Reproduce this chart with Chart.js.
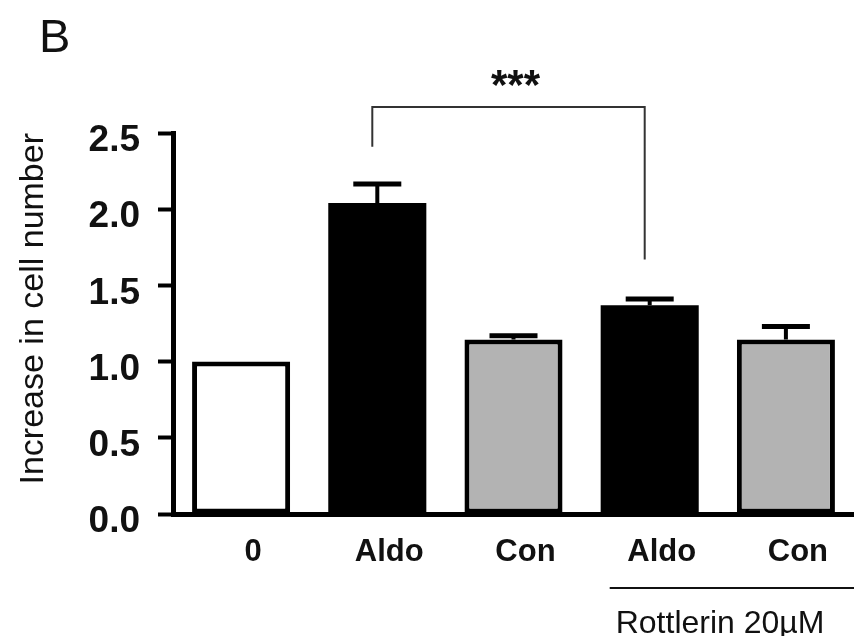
<!DOCTYPE html>
<html>
<head>
<meta charset="utf-8">
<script src="https://cdn.jsdelivr.net/npm/chart.js@4/dist/chart.umd.min.js"></script>
<style>
  body { margin: 0; background: #fff; }
  #wrap { width: 854px; height: 636px; }
</style>
</head>
<body>
<div id="wrap"><canvas id="cellChart" width="854" height="636"></canvas></div>
<script>
// values
const categories = ['0', 'Aldo', 'Con', 'Aldo', 'Con'];
const means = [1.00, 2.04, 1.145, 1.37, 1.145];
const sem = [0, 0.125, 0.025, 0.04, 0.085];
const yTicks = [0, 0.5, 1.0, 1.5, 2.0, 2.5];

// significance bracket: from / to category, top of bracket, left leg end, right leg end
const bracketIdx = [1, 3];
const bracketY = [2.67, 2.41, 1.67];
const stars = '***';
const groupLabel = 'Rottlerin 20\u00b5M';
const panelLabel = 'B';

const FONT = "'Liberation Sans', Arial, sans-serif";
const fills = ['#ffffff', '#000000', '#b3b3b3', '#000000', '#b3b3b3'];
// black bars need no outline (avoids a seam between fill and border)
const outlines = [5, 0, 5, 0, 5];

// error bars, bracket and extra labels
const extras = {
  id: 'extras',
  afterDatasetsDraw(chart) {
    const { ctx, scales: { x, y }, chartArea } = chart;
    ctx.save();
    ctx.strokeStyle = '#000';

    means.forEach((m, i) => {
      if (!sem[i]) return;
      const px = x.getPixelForValue(i);
      const top = y.getPixelForValue(m + sem[i]);
      ctx.lineWidth = 4;
      ctx.beginPath();
      ctx.moveTo(px, y.getPixelForValue(m));
      ctx.lineTo(px, top);
      ctx.stroke();
      ctx.lineWidth = 5;
      ctx.beginPath();
      ctx.moveTo(px - 24, top);
      ctx.lineTo(px + 24, top);
      ctx.stroke();
    });

    // bracket
    const xl = x.getPixelForValue(bracketIdx[0]) - 5;
    const xr = x.getPixelForValue(bracketIdx[1]) - 5;
    const yt = y.getPixelForValue(bracketY[0]);
    ctx.strokeStyle = '#333';
    ctx.lineWidth = 2;
    ctx.beginPath();
    ctx.moveTo(xl, y.getPixelForValue(bracketY[1]));
    ctx.lineTo(xl, yt);
    ctx.lineTo(xr, yt);
    ctx.lineTo(xr, y.getPixelForValue(bracketY[2]));
    ctx.stroke();

    ctx.fillStyle = '#111';
    ctx.font = 'bold 42px ' + FONT;
    ctx.textAlign = 'center';
    ctx.textBaseline = 'alphabetic';
    ctx.fillText(stars, (xl + xr) / 2 + 7, yt - 8);

    // group line under the rottlerin bars
    const gx = x.getPixelForValue(3) - 40;
    ctx.strokeStyle = '#111';
    ctx.lineWidth = 2;
    ctx.beginPath();
    ctx.moveTo(gx, 588);
    ctx.lineTo(chartArea.right, 588);
    ctx.stroke();
    ctx.fillStyle = '#111';
    ctx.font = '32px ' + FONT;
    ctx.textAlign = 'left';
    ctx.fillText(groupLabel, gx + 6, 633);

    // panel letter
    ctx.font = '47px ' + FONT;
    ctx.fillText(panelLabel, 39, 52);
    ctx.restore();
  }
};

new Chart(document.getElementById('cellChart'), {
  type: 'bar',
  data: {
    labels: categories,
    datasets: [{
      data: means,
      backgroundColor: fills,
      borderColor: '#000',
      borderWidth: outlines,
      borderSkipped: false,
      barPercentage: 0.72,
      categoryPercentage: 1.0
    }]
  },
  options: {
    responsive: false,
    animation: false,
    devicePixelRatio: 1,
    layout: { padding: { top: 133, right: 0, bottom: 0, left: 0 } },
    plugins: { legend: { display: false }, tooltip: { enabled: false } },
    scales: {
      x: {
        offset: true,
        afterFit: s => { s.height = 122; },
        grid: { display: true, drawOnChartArea: false, drawTicks: false },
        border: { display: true, color: '#000', width: 5 },
        ticks: {
          color: '#111',
          font: { family: FONT, size: 31, weight: 'bold' },
          padding: 20,
          labelOffset: 12
        }
      },
      y: {
        min: 0,
        max: 2.5,
        afterFit: s => { s.width = 173; },
        afterBuildTicks: s => { s.ticks = yTicks.map(v => ({ value: v })); },
        grid: { drawOnChartArea: false, drawTicks: true, tickLength: 15, tickWidth: 4, tickColor: '#000' },
        border: { display: true, color: '#000', width: 5 },
        ticks: {
          color: '#111',
          font: { family: FONT, size: 37, weight: 'bold' },
          padding: 18,
          labelOffset: 8,
          callback: v => Number(v).toFixed(1)
        },
        title: {
          display: true,
          text: 'Increase in cell number',
          align: 'end',
          color: '#111',
          font: { family: FONT, size: 34 },
          padding: { top: 13, bottom: 0 }
        }
      }
    }
  },
  plugins: [extras]
});
</script>
</body>
</html>
